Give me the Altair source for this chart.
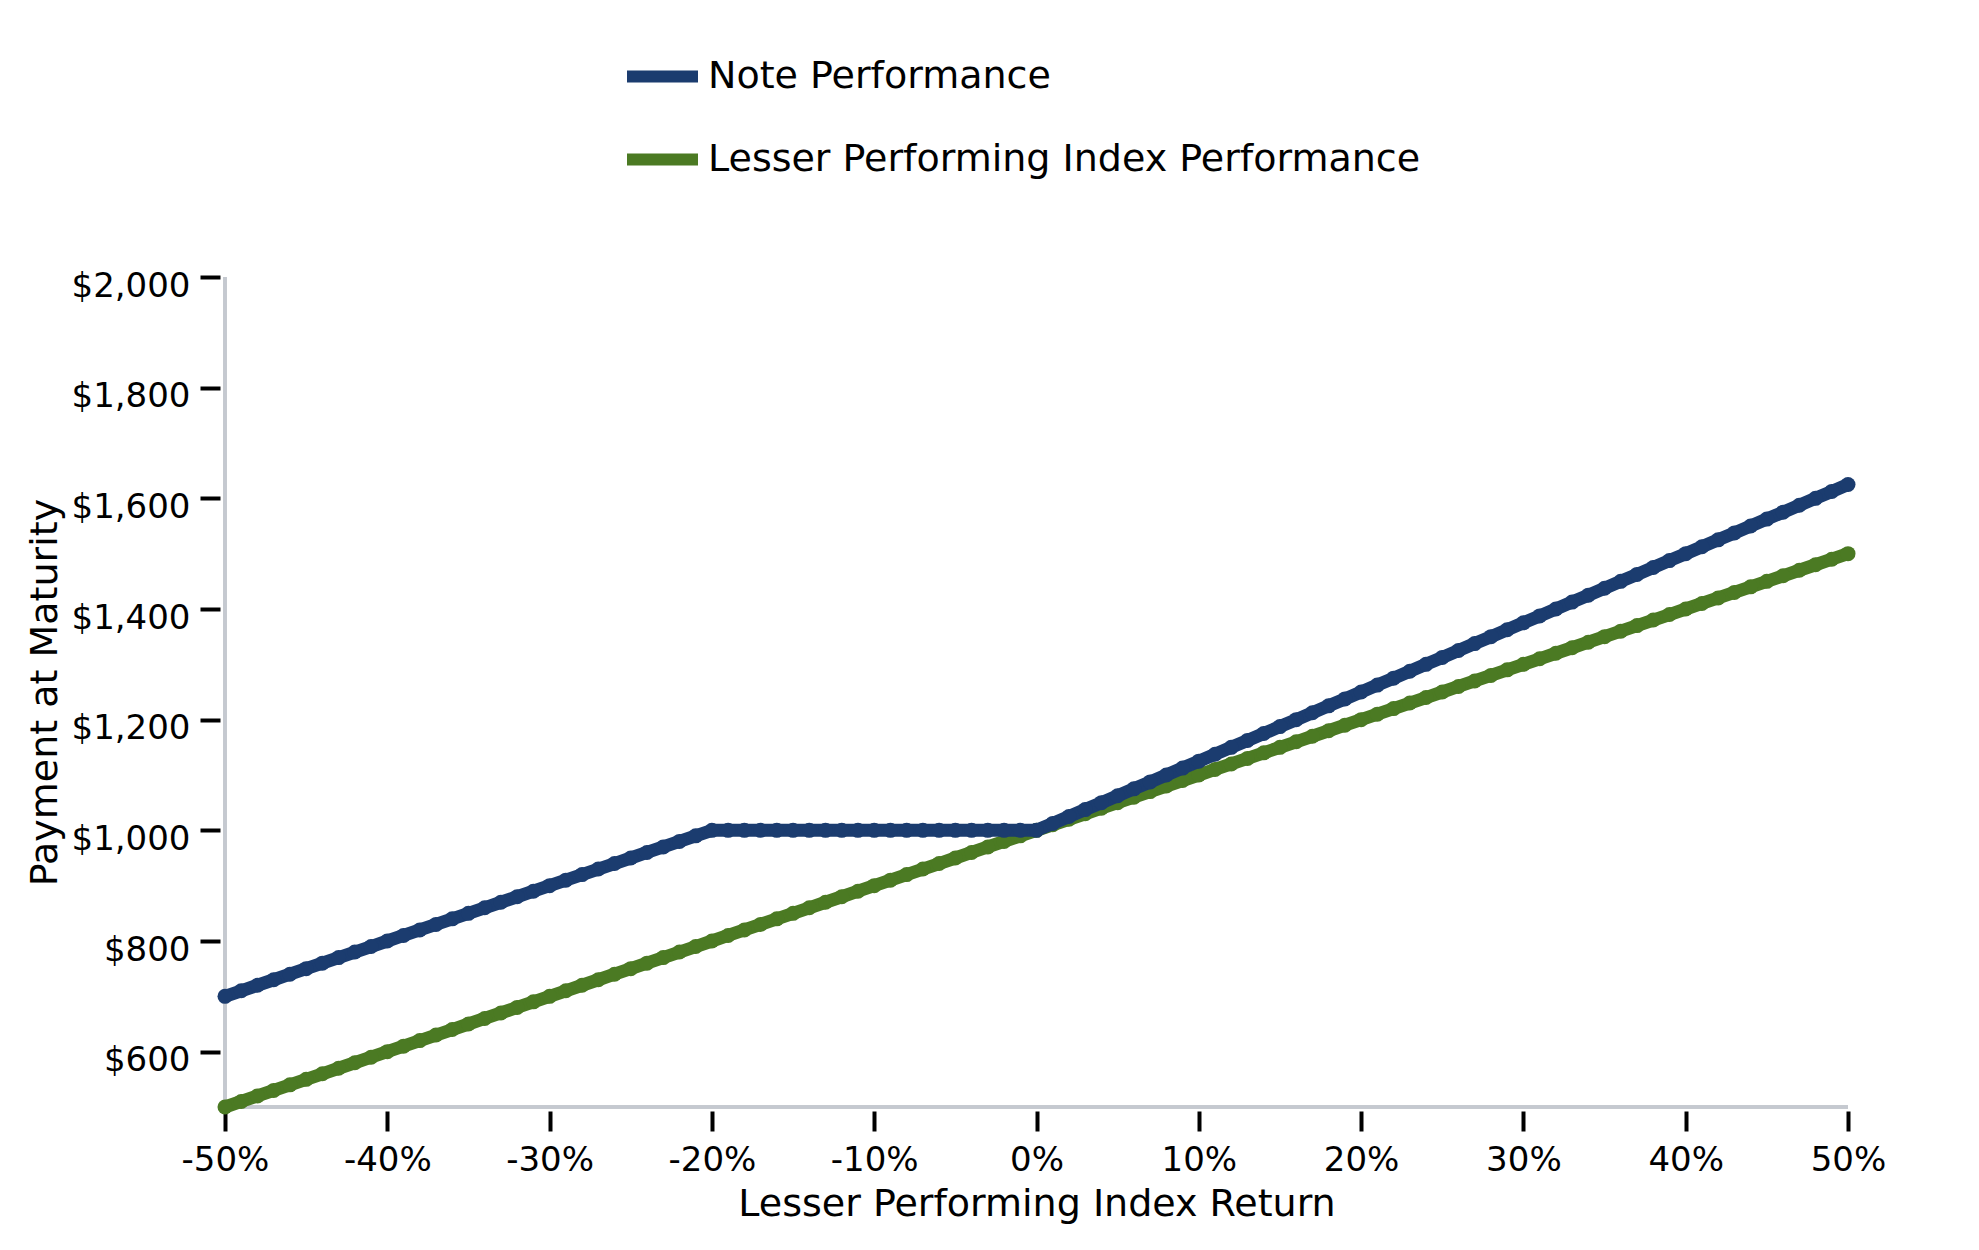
import altair as alt
import pandas as pd

# Lesser performing index return (%)
returns = list(range(-50, 51))

# Payment at maturity, Note
note_values = [
    700, 710, 720, 730, 740, 750, 760, 770, 780, 790,
    800, 810, 820, 830, 840, 850, 860, 870, 880, 890,
    900, 910, 920, 930, 940, 950, 960, 970, 980, 990,
    1000,
    1000, 1000, 1000, 1000, 1000, 1000, 1000, 1000, 1000, 1000,
    1000, 1000, 1000, 1000, 1000, 1000, 1000, 1000, 1000, 1000,
    1012.5, 1025, 1037.5, 1050, 1062.5, 1075, 1087.5, 1100, 1112.5, 1125,
    1137.5, 1150, 1162.5, 1175, 1187.5, 1200, 1212.5, 1225, 1237.5, 1250,
    1262.5, 1275, 1287.5, 1300, 1312.5, 1325, 1337.5, 1350, 1362.5, 1375,
    1387.5, 1400, 1412.5, 1425, 1437.5, 1450, 1462.5, 1475, 1487.5, 1500,
    1512.5, 1525, 1537.5, 1550, 1562.5, 1575, 1587.5, 1600, 1612.5, 1625,
]

# Payment at maturity, Lesser performing index
index_values = [
    500, 510, 520, 530, 540, 550, 560, 570, 580, 590,
    600, 610, 620, 630, 640, 650, 660, 670, 680, 690,
    700, 710, 720, 730, 740, 750, 760, 770, 780, 790,
    800, 810, 820, 830, 840, 850, 860, 870, 880, 890,
    900, 910, 920, 930, 940, 950, 960, 970, 980, 990,
    1000,
    1010, 1020, 1030, 1040, 1050, 1060, 1070, 1080, 1090, 1100,
    1110, 1120, 1130, 1140, 1150, 1160, 1170, 1180, 1190, 1200,
    1210, 1220, 1230, 1240, 1250, 1260, 1270, 1280, 1290, 1300,
    1310, 1320, 1330, 1340, 1350, 1360, 1370, 1380, 1390, 1400,
    1410, 1420, 1430, 1440, 1450, 1460, 1470, 1480, 1490, 1500,
]

series_names = ["Note Performance", "Lesser Performing Index Performance"]
series_colors = ["#1b3c6f", "#4b7a23"]
x_ticks = [-50, -40, -30, -20, -10, 0, 10, 20, 30, 40, 50]
y_ticks = [600, 800, 1000, 1200, 1400, 1600, 1800, 2000]

df = pd.concat([
    pd.DataFrame({"ret": returns, "pay": note_values, "series": series_names[0]}),
    pd.DataFrame({"ret": returns, "pay": index_values, "series": series_names[1]}),
])

FONT = "DejaVu Sans"

x_scale = alt.Scale(domain=[-50, 50], nice=False, zero=False)
y_scale = alt.Scale(domain=[500, 2000], nice=False, zero=False)

x_axis = alt.Axis(
    values=x_ticks, labelExpr="datum.value + '%'", domain=False, grid=False,
    offset=4, tickSize=20, tickWidth=4, tickColor="black",
    labelFont=FONT, labelFontSize=34, labelColor="black", labelPadding=12,
    labelFlush=False, labelOverlap=False,
    title="Lesser Performing Index Return", titleFont=FONT, titleFontSize=38,
    titleFontWeight="normal", titleColor="black", titleBaseline="alphabetic",
    titleY=104,
)
y_axis = alt.Axis(
    values=y_ticks, format="$,.0f", domain=False, grid=False,
    offset=5, tickSize=20, tickWidth=4, tickColor="black",
    labelFont=FONT, labelFontSize=34, labelColor="black", labelPadding=10,
    labelBaseline="middle", labelOffset=9, labelFlush=False, labelOverlap=False,
    title="Payment at Maturity", titleFont=FONT, titleFontSize=38,
    titleFontWeight="normal", titleColor="black", titleBaseline="alphabetic",
    titleAngle=270, titleX=-164,
)

color = alt.Color(
    "series:N",
    scale=alt.Scale(domain=series_names, range=series_colors),
    legend=alt.Legend(
        title=None, orient="none", legendX=396, legendY=-242,
        symbolType="stroke", symbolSize=5041, symbolStrokeWidth=12,
        labelFont=FONT, labelFontSize=38, labelColor="black", labelOffset=4,
        rowPadding=17, padding=0, labelLimit=1000,
    ),
)

axis_color = "#c5c9d0"
y_line = alt.Chart(df).mark_rule(color=axis_color, strokeWidth=3).encode(
    x=alt.datum(-50, scale=x_scale, axis=x_axis),
    y=alt.datum(500, scale=y_scale, axis=y_axis),
    y2=alt.datum(2000),
)
x_line = alt.Chart(df).mark_rule(color=axis_color, strokeWidth=3).encode(
    x=alt.datum(-50),
    x2=alt.datum(50),
    y=alt.datum(500),
)

def series_layers(name):
    base = alt.Chart(df).transform_filter(alt.datum.series == name).encode(
        x=alt.X("ret:Q", scale=x_scale, axis=x_axis),
        y=alt.Y("pay:Q", scale=y_scale, axis=y_axis),
        color=color,
        order="ret:Q",
    )
    line = base.mark_line(strokeWidth=13, strokeJoin="round", strokeCap="round")
    pts = base.mark_circle(size=225, opacity=1)
    return [line, pts]

layers = [y_line, x_line] + series_layers(series_names[1]) + series_layers(series_names[0])

chart = alt.layer(*layers).properties(
    width=1623, height=830,
    autosize=alt.AutoSizeParams(type="none"),
    padding={"left": 217, "top": 269, "right": 100, "bottom": 120},
    background="white",
).configure_view(stroke=None)

chart.save("out.html", embed_options={"renderer": "svg", "actions": False})
